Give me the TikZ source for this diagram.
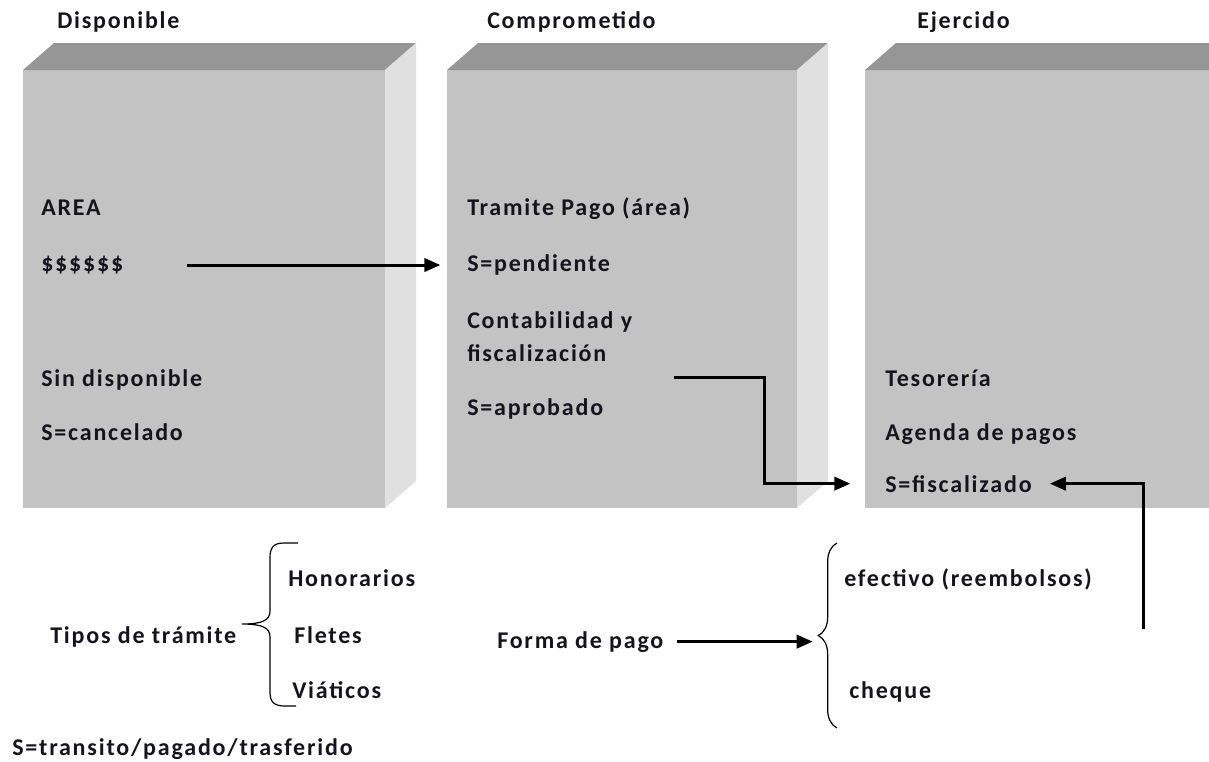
\documentclass[tikz,border=0pt]{standalone}
\usepackage{fontspec}
\setmainfont{Carlito}[LetterSpace=7.5]
\usetikzlibrary{positioning,arrows.meta,decorations.pathreplacing}
\definecolor{frontgray}{RGB}{195,195,195}
\definecolor{topgray}{RGB}{150,150,150}
\definecolor{sidegray}{RGB}{224,224,224}
\definecolor{inkblack}{RGB}{20,20,30}

\tikzset{
  lbl/.style={anchor=base west, inner sep=0pt, font=\bfseries\fontsize{18}{21}\selectfont, text=inkblack},
  arr/.style={line width=2.25pt, -{Triangle[length=12pt,width=10pt]}},
  brc/.style={line width=0.9pt, decorate, decoration={brace, amplitude=#1}}
}

\begin{document}
\begin{tikzpicture}[x=0.75pt, y=-0.75pt]
    \useasboundingbox (0,0) rectangle (1209,761);
    \clip (0,0) rectangle (1209,761);
    % the three blocks
    \foreach \bx/\bw in {23/362, 447/350, 865/350}{
        \fill[frontgray] (\bx,70) rectangle ++(\bw,438);
        \fill[topgray] (\bx,70) -- ++(31,-27) -- ++(\bw,0) -- ++(-31,27) -- cycle;
        \fill[sidegray] (\bx+\bw,70) -- ++(31,-27) -- ++(0,438) -- ++(-31,27) -- cycle;
    }

    \node[lbl] (disp) at (57,28) {Disponible};
    \node[lbl] (comp) at (487,28) {Comprometido};
    \node[lbl] (ejer) at (917,28) {Ejercido};

    \node[lbl] (area) at (41,215) {AREA};
    \node[lbl] (money) at (41,271) {\$\$\$\$\$\$};
    \node[lbl] (sindisp) at (41,386) {Sin disponible};
    \node[lbl] (cancel) at (41,440) {S=cancelado};

    \node[lbl] (tramite) at (467,215) {Tramite Pago (área)};
    \node[lbl] (pend) at (467,271) {S=pendiente};
    \node[lbl] (conta) at (467,328) {Contabilidad y};
    \node[lbl] (fisc) at (467,361) {fiscalización};
    \node[lbl] (aprob) at (467,415) {S=aprobado};

    \node[lbl] (teso) at (885,386) {Tesorería};
    \node[lbl] (agenda) at (885,440) {Agenda de pagos};
    \node[lbl] (fiscz) at (885,492) {S=fiscalizado};

    % tipos de tramite
    \node[lbl] (tipos) at (50,643) {Tipos de trámite};
    \node[lbl] (hono) at (288,586) {Honorarios};
    \node[lbl] (fletes) at (294,643) {Fletes};
    \node[lbl] (viat) at (292,698) {Viáticos};
    \node[lbl] (status) at (12,755) {S=transito/pagado/trasferido};
    \draw[line width=0.9pt] (298,543) -- (284,543) .. controls (273,543) and (270,548) .. (270,558)
        -- (270,611) .. controls (270,620) and (263,624) .. (242,624)
        .. controls (263,624) and (270,628) .. (270,637) -- (270,692)
        .. controls (270,702) and (274,706) .. (285,706) -- (296,706);

    % forma de pago
    \node[lbl] (forma) at (497,648) {Forma de pago};
    \node[lbl] (efect) at (844,586) {efectivo (reembolsos)};
    \node[lbl] (cheque) at (849,698) {cheque};
    \draw[brc=14pt] (837,728) -- (837,543);
    \coordinate (brtip) at (818,639);

    \coordinate (a1) at (187,265);
    \coordinate (a2) at (674,377);
    \coordinate (a3) at (1143,629);
    \draw[arr, shorten >=20pt] (a1) -- (a1 -| pend.west);
    \draw[arr, shorten >=26pt] (a2) -- ++(90,0) |- (fiscz.west);
    \draw[arr, shorten >=13.5pt] (a3) |- (fiscz.east);
    \draw[arr, shorten >=4pt] ([xshift=10pt]forma.east) -- (forma.east -| brtip);
\end{tikzpicture}
\end{document}
